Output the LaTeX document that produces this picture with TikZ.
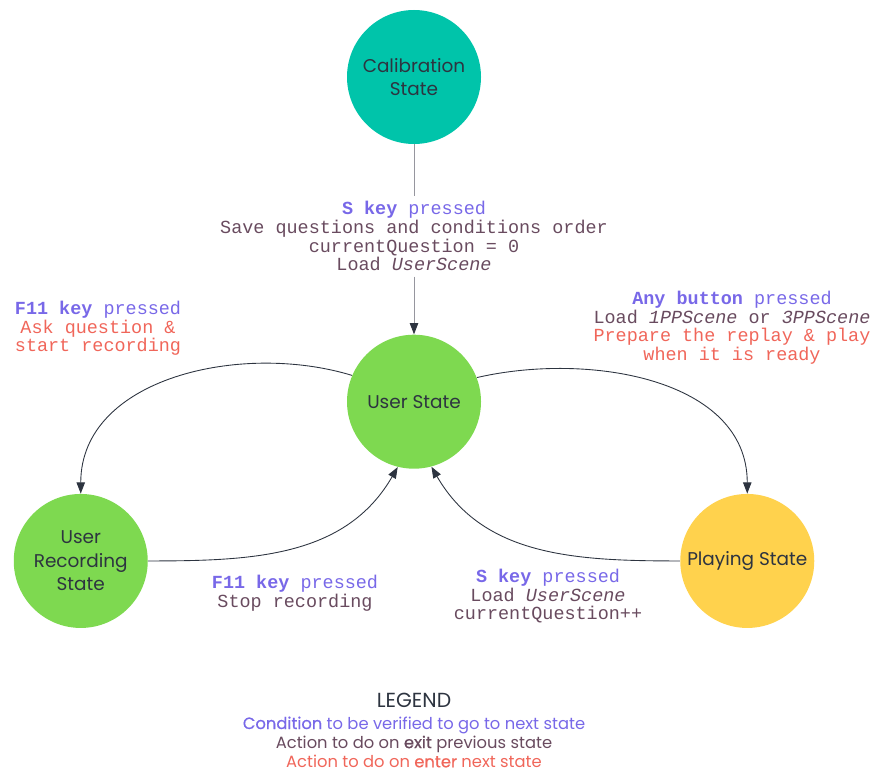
\documentclass[tikz,border=0pt]{standalone}
\usepackage{fontspec}
\setmainfont{Poppins}
\setmonofont{Liberation Mono}
\newfontfamily\medfont{Poppins}[FakeBold=0.7]
\usetikzlibrary{
  arrows.meta,
  positioning,
}
\definecolor{calibteal}{RGB}{0,196,170}
\definecolor{usergreen}{RGB}{126,217,80}
\definecolor{playyellow}{RGB}{255,210,77}
\definecolor{inkdark}{RGB}{45,52,64}
\definecolor{linegray}{RGB}{150,150,158}
\definecolor{condpurple}{RGB}{120,104,232}
\definecolor{exitbrown}{RGB}{105,75,95}
\definecolor{enterred}{RGB}{240,102,90}
\newcommand{\cond}[1]{\textcolor{condpurple}{#1}}
\newcommand{\onexit}[1]{\textcolor{exitbrown}{#1}}
\newcommand{\onenter}[1]{\textcolor{enterred}{#1}}
\tikzset{
  state/.style={circle, minimum size=2.68cm, inner sep=0pt, align=center,
    text=inkdark, font=\fontsize{10.5}{13.4}\selectfont},
  label/.style={align=center, inner sep=3pt, anchor=north,
    font=\ttfamily\fontsize{10.5}{10.6}\selectfont},
  trans/.style={draw=inkdark, line width=0.5pt,
    -{Triangle[length=6.4pt,width=4.8pt]}},
}

\begin{document}
\begin{tikzpicture}
    \useasboundingbox (0,0) rectangle (17.5,-15.42);
    \node [state, fill=calibteal] (calib) at (8.28,-1.54) {Calibration\\State};
    \node [label, below=1.03cm of calib] (saveLab)
      {\cond{\textbf{S key} pressed}\\
       \onexit{Save questions and conditions order}\\
       \onexit{currentQuestion = 0}\\
       \onexit{Load \textit{UserScene}}};
    \node [state, fill=usergreen, below=3.8cm of calib] (user) {User State};
    \node [state, fill=usergreen, below left=1.28cm and 4.76cm of user] (rec)
      {User\\Recording\\State};
    \node [state, fill=playyellow, below right=1.28cm and 4.76cm of user] (play)
      {Playing State};
    \node [label] (askLab) at (1.96,-5.91)
      {\cond{\textbf{F11 key} pressed}\\
       \onenter{Ask question \&}\\
       \onenter{start recording}};
    \node [label] (replayLab) at (14.64,-5.71)
      {\cond{\textbf{Any button} pressed}\\
       \onexit{Load \textit{1PPScene} or \textit{3PPScene}}\\
       \onenter{Prepare the replay \& play}\\
       \onenter{when it is ready}};
    \node [label] (stopLab) at (5.9,-11.39)
      {\cond{\textbf{F11 key} pressed}\\
       \onexit{Stop recording}};
    \node [label] (backLab) at (10.96,-11.27)
      {\cond{\textbf{S key} pressed}\\
       \onexit{Load \textit{UserScene}}\\
       \onexit{currentQuestion++}};
    % legend
    \node [text=inkdark, font=\fontsize{11.6}{12}\selectfont] (legTitle) at (8.28,-14.0) {LEGEND};
    \node [align=center, font=\fontsize{9.3}{10.9}\selectfont] (legBody) at (8.28,-14.84)
      {\cond{{\medfont Condition} to be verified to go to next state}\\
       \onexit{Action to do on {\medfont exit} previous state}\\
       \onenter{Action to do on {\medfont enter} next state}};
    \draw [draw=linegray, line width=0.5pt] (calib) to (saveLab);
    \draw [trans, draw=linegray, -{Triangle[length=6.4pt,width=4.8pt,color=inkdark]}] (saveLab) to (user);
    \draw [trans] (user.157) to[out=163, in=90] (rec.north);
    \draw [trans] (user.21) to[out=13, in=90] (play.north);
    \draw [trans] (rec.east) to[out=0, in=240] (user.256);
    \draw [trans] (play.west) to[out=180, in=300] (user.285);
  \end{tikzpicture}
\end{document}
